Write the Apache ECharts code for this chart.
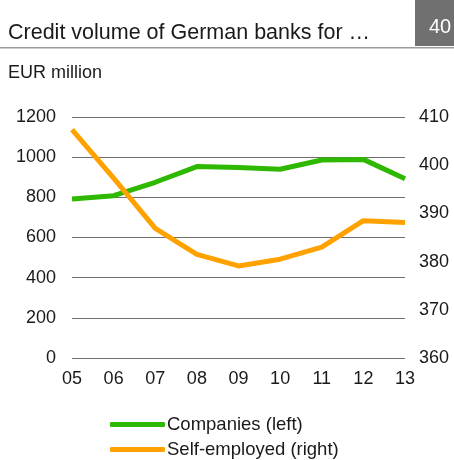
<!DOCTYPE html>
<html><head><meta charset="utf-8">
<script src="https://cdn.jsdelivr.net/npm/echarts@6/dist/echarts.min.js"></script>
<style>html,body{margin:0;padding:0;background:#fff}#c{width:454px;height:460px}</style>
</head><body><div id="c"></div>
<script>
const categories = ['05','06','07','08','09','10','11','12','13'];
const companies = [792, 808, 875, 953, 948, 940, 986, 989, 893];
const selfEmployed = [407.4, 397.3, 386.9, 381.5, 379.1, 380.5, 383.0, 388.5, 388.1];
const font = 'Liberation Sans, Arial, sans-serif';
const chart = echarts.init(document.getElementById('c'));
const legendCommon = {
  orient: 'horizontal', left: 105, itemWidth: 55, itemHeight: 5, icon: 'roundRect',
  textStyle: {fontFamily: font, fontSize: 18.5, color: '#1a1a1a', padding: [0,0,0,-3]}
};
chart.setOption({
  animation: false,
  backgroundColor: '#fff',
  title: [
    {text: 'Credit volume of German banks for …', left: 3, top: 17, textStyle: {fontFamily: font, fontSize: 21.5, fontWeight: 'normal', color: '#1a1a1a'}},
    {text: 'EUR million', left: 3, top: 59, textStyle: {fontFamily: font, fontSize: 18, fontWeight: 'normal', color: '#1a1a1a'}}
  ],
  graphic: [
    {type: 'rect', shape: {x: 415, y: 0, width: 39, height: 46}, style: {fill: '#707070'}},
    {type: 'text', x: 440, y: 27, style: {text: '40', fill: '#fff', font: '20px ' + font, textAlign: 'center', textVerticalAlign: 'middle'}},
    {type: 'rect', shape: {x: 0, y: 47, width: 454, height: 1.5}, style: {fill: '#9a9a9a'}}
  ],
  legend: [
    Object.assign({top: 410, data: ['Companies (left)']}, legendCommon),
    Object.assign({top: 435, data: ['Self-employed (right)']}, legendCommon)
  ],
  grid: {left: 72, right: 49, top: 117, bottom: 102, containLabel: false},
  xAxis: {
    type: 'category', data: categories, boundaryGap: false,
    axisLine: {show: false}, axisTick: {show: false},
    axisLabel: {fontFamily: font, fontSize: 18, color: '#1a1a1a', margin: 12}
  },
  yAxis: [
    {type: 'value', min: 0, max: 1200, interval: 200,
     axisLine: {show: false}, axisTick: {show: false},
     axisLabel: {fontFamily: font, fontSize: 18, color: '#1a1a1a', margin: 16, formatter: v => String(v)},
     splitLine: {lineStyle: {color: '#6e6e6e', width: 1}}},
    {type: 'value', min: 360, max: 410, interval: 10,
     axisLine: {show: false}, axisTick: {show: false},
     axisLabel: {fontFamily: font, fontSize: 18, color: '#1a1a1a', margin: 14, formatter: v => String(v)},
     splitLine: {show: false}}
  ],
  series: [
    {name: 'Companies (left)', type: 'line', data: companies, yAxisIndex: 0, showSymbol: false, symbol: 'none',
     lineStyle: {color: '#2eb800', width: 5}, itemStyle: {color: '#2eb800'}},
    {name: 'Self-employed (right)', type: 'line', data: selfEmployed, yAxisIndex: 1, showSymbol: false, symbol: 'none',
     lineStyle: {color: '#ffa200', width: 5}, itemStyle: {color: '#ffa200'}}
  ]
});
</script></body></html>
